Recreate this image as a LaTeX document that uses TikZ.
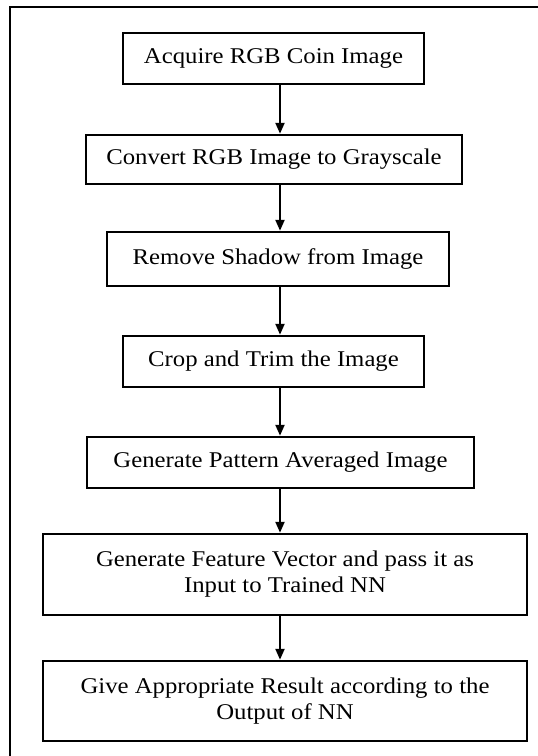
\documentclass[tikz,border=0pt]{standalone}
\usepackage{fontspec}
\setmainfont{Liberation Serif}[FakeStretch=1.10]
\usetikzlibrary{arrows.meta}

\newlength{\du}
\setlength{\du}{1pt}

\begin{document}
\begin{tikzpicture}[x=1\du,y=-1\du,
  stepbox/.style={draw=black,line width=2.5\du,fill=white,inner sep=0pt,
    align=center,font=\fontsize{22.5}{26}\selectfont},
  flowarrow/.style={line width=2.2\du,-{Triangle[length=11pt,width=9pt]}}]
\definecolor{dialinecolor}{rgb}{0.000000, 0.000000, 0.000000}
\useasboundingbox (0,0) rectangle (538,756);
% frame
\draw[line width=1.6\du,dialinecolor] (10,756)--(10,7)--(538,7);
% column of the arrows
\coordinate (axis) at (280,0);
% boxes
\node[stepbox,minimum width=301\du,minimum height=51\du] (acquire) at (273.5,58.5){Acquire RGB Coin Image};
\node[stepbox,minimum width=376\du,minimum height=49\du] (gray) at (274,159.5){Convert RGB Image to Grayscale};
\node[stepbox,minimum width=342\du,minimum height=54\du] (shadow) at (278,259){Remove Shadow from Image};
\node[stepbox,minimum width=301\du,minimum height=51\du] (crop) at (273.5,361.5){Crop and Trim the Image};
\node[stepbox,minimum width=387\du,minimum height=51\du] (pattern) at (280.5,462.5){Generate Pattern Averaged Image};
\node[stepbox,minimum width=484\du,minimum height=81\du] (feature) at (285,574.5){Generate Feature Vector and pass it as\\Input to Trained NN};
\node[stepbox,minimum width=484\du,minimum height=80\du] (result) at (285,701){Give Appropriate Result according to the\\Output of NN};
% arrows
\draw[flowarrow] (axis |- acquire.south)--(axis |- gray.north);
\draw[flowarrow] (axis |- gray.south)--(axis |- shadow.north);
\draw[flowarrow] (axis |- shadow.south)--(axis |- crop.north);
\draw[flowarrow] (axis |- crop.south)--(axis |- pattern.north);
\draw[flowarrow] (axis |- pattern.south)--(axis |- feature.north);
\draw[flowarrow] (axis |- feature.south)--(axis |- result.north);
\end{tikzpicture}
\end{document}
